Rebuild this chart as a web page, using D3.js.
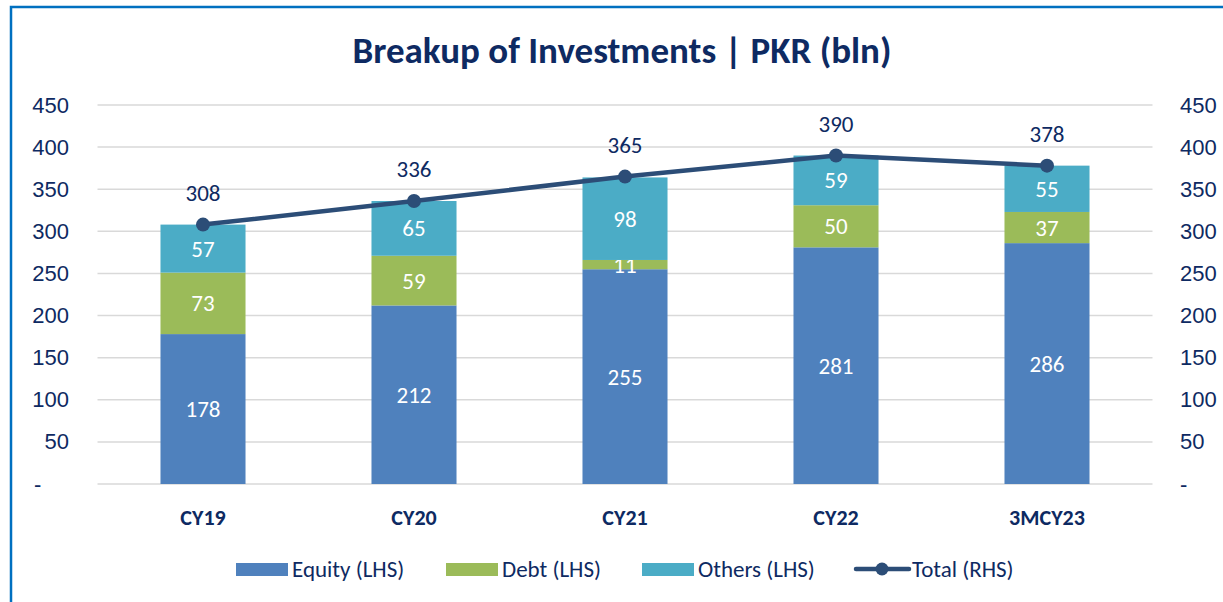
<!DOCTYPE html>
<html>
<head>
<meta charset="utf-8">
<script src="https://cdn.jsdelivr.net/npm/d3@7"></script>
<style>
  body { margin: 0; background: #fff; }
  svg { display: block; font-family: Carlito, Calibri, Lato, "Open Sans", sans-serif; }
</style>
</head>
<body>
<div id="chart"></div>
<script>
// chart data
var categories = ["CY19", "CY20", "CY21", "CY22", "3MCY23"];
var equity = [178, 212, 255, 281, 286];
var debt = [73, 59, 11, 50, 37];
var others = [57, 65, 98, 59, 55];
var total = [308, 336, 365, 390, 378];
var yTicks = [0, 50, 100, 150, 200, 250, 300, 350, 400, 450];

var seriesNames = ["Equity (LHS)", "Debt (LHS)", "Others (LHS)"];
var seriesColors = ["#4F81BD", "#9BBB59", "#4BACC6"];
var navy = "#0E2A62";
var lineColor = "#2C4D77";

var width = 1223, height = 602;

var svg = d3.select("#chart").append("svg")
  .attr("width", width)
  .attr("height", height);

// outer frame
svg.append("path")
  .attr("d", "M11,602 V7 H1223")
  .attr("fill", "none")
  .attr("stroke", "#0070C0")
  .attr("stroke-width", 2.5);

// title
svg.append("text")
  .attr("x", 622)
  .attr("y", 63)
  .attr("text-anchor", "middle")
  .attr("font-size", 37)
  .attr("font-weight", "bold")
  .attr("fill", navy)
  .text("Breakup of Investments | PKR (bln)");

var x = d3.scaleBand()
  .domain(categories)
  .range([97.5, 1152.5])
  .paddingInner(0.597)
  .paddingOuter(0.2985);

var y = d3.scaleLinear()
  .domain([0, 450])
  .range([484, 105]);

// gridlines
svg.append("g").selectAll("line")
  .data(yTicks)
  .join("line")
  .attr("x1", 97.5)
  .attr("x2", 1152.5)
  .attr("y1", function(d) { return y(d); })
  .attr("y2", function(d) { return y(d); })
  .attr("stroke", "#D9D9D9")
  .attr("stroke-width", 1.5);

var fmt = function(d) { return d === 0 ? "-" : d; };

// left axis
var leftAxis = svg.append("g")
  .attr("transform", "translate(69,0)")
  .call(d3.axisLeft(y).tickValues(yTicks).tickFormat(fmt).tickSize(0).tickPadding(0));
leftAxis.select(".domain").remove();
leftAxis.selectAll("text")
  .attr("font-size", 22)
  .attr("fill", navy)
  .attr("font-family", null);
leftAxis.selectAll(".tick text").filter(function(d) { return d === 0; })
  .attr("x", -35).attr("text-anchor", "start");

// right axis
var rightAxis = svg.append("g")
  .attr("transform", "translate(1180,0)")
  .call(d3.axisRight(y).tickValues(yTicks).tickFormat(fmt).tickSize(0).tickPadding(0));
rightAxis.select(".domain").remove();
rightAxis.selectAll("text")
  .attr("font-size", 22)
  .attr("fill", navy)
  .attr("font-family", null);

// x labels
svg.append("g").selectAll("text")
  .data(categories)
  .join("text")
  .attr("x", function(d) { return x(d) + x.bandwidth() / 2; })
  .attr("y", 525)
  .attr("text-anchor", "middle")
  .attr("font-size", 22)
  .attr("font-weight", "bold")
  .attr("fill", navy)
  .text(function(d) { return d; });

// stacked bars
var rows = categories.map(function(c, i) {
  return {cat: c, equity: equity[i], debt: debt[i], others: others[i]};
});
var stack = d3.stack().keys(["equity", "debt", "others"])(rows);

var groups = svg.append("g").selectAll("g")
  .data(stack)
  .join("g")
  .attr("fill", function(d, i) { return seriesColors[i]; });

groups.selectAll("rect")
  .data(function(d) { return d; })
  .join("rect")
  .attr("x", function(d) { return x(d.data.cat); })
  .attr("width", x.bandwidth())
  .attr("y", function(d) { return y(d[1]); })
  .attr("height", function(d) { return y(d[0]) - y(d[1]); });

groups.selectAll("text")
  .data(function(d) { return d; })
  .join("text")
  .attr("x", function(d) { return x(d.data.cat) + x.bandwidth() / 2; })
  .attr("y", function(d) { return (y(d[0]) + y(d[1])) / 2; })
  .attr("dy", "0.35em")
  .attr("text-anchor", "middle")
  .attr("font-size", 23)
  .attr("fill", "#fff")
  .text(function(d) { return d[1] - d[0]; });

// total line
var line = d3.line()
  .x(function(d, i) { return x(categories[i]) + x.bandwidth() / 2; })
  .y(function(d) { return y(d); });

svg.append("path")
  .datum(total)
  .attr("d", line)
  .attr("fill", "none")
  .attr("stroke", lineColor)
  .attr("stroke-width", 4.5);

svg.append("g").selectAll("circle")
  .data(total)
  .join("circle")
  .attr("cx", function(d, i) { return x(categories[i]) + x.bandwidth() / 2; })
  .attr("cy", function(d) { return y(d); })
  .attr("r", 7)
  .attr("fill", lineColor);

svg.append("g").selectAll("text")
  .data(total)
  .join("text")
  .attr("x", function(d, i) { return x(categories[i]) + x.bandwidth() / 2; })
  .attr("y", function(d) { return y(d) - 24; })
  .attr("text-anchor", "middle")
  .attr("font-size", 23)
  .attr("fill", navy)
  .text(function(d) { return d; });

// legend
var legendX = [236, 446, 642];
seriesNames.forEach(function(name, i) {
  svg.append("rect")
    .attr("x", legendX[i])
    .attr("y", 563)
    .attr("width", 52)
    .attr("height", 13)
    .attr("fill", seriesColors[i]);
  svg.append("text")
    .attr("x", legendX[i] + 56)
    .attr("y", 569)
    .attr("dy", "0.35em")
    .attr("font-size", 23)
    .attr("fill", navy)
    .text(name);
});

svg.append("line")
  .attr("x1", 856).attr("x2", 909)
  .attr("y1", 569).attr("y2", 569)
  .attr("stroke", lineColor)
  .attr("stroke-width", 4.5)
  .attr("stroke-linecap", "round");
svg.append("circle")
  .attr("cx", 882).attr("cy", 569).attr("r", 6.5)
  .attr("fill", lineColor);
svg.append("text")
  .attr("x", 912)
  .attr("y", 569)
  .attr("dy", "0.35em")
  .attr("font-size", 23)
  .attr("fill", navy)
  .text("Total (RHS)");
</script>
</body>
</html>
